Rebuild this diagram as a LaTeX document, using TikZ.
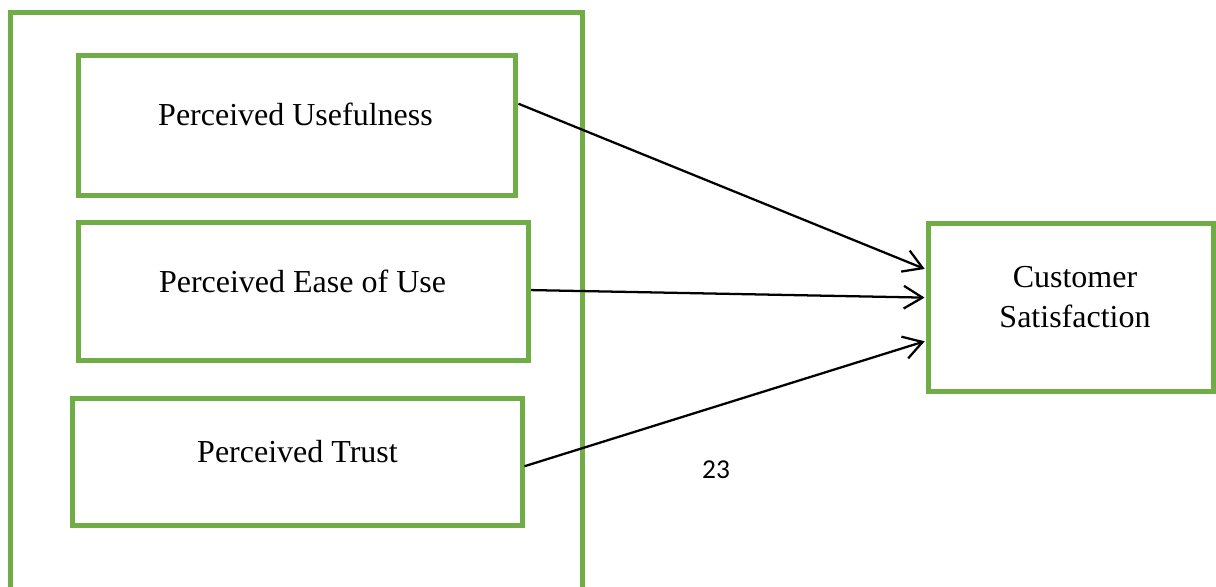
\documentclass[tikz,border=0pt]{standalone}
\usepackage{fontspec}
\setmainfont{Liberation Serif}
\newfontfamily\calib{Carlito}
\usetikzlibrary{arrows.meta,calc}
\definecolor{offgreen}{RGB}{112,173,71}
\begin{document}
\begin{tikzpicture}[x=0.75pt,y=-0.75pt,
  box/.style={draw=offgreen,line width=3.75pt,rectangle,inner sep=0pt,minimum width=#1},
  box/.default=10pt,
  lbl/.style={anchor=base,inner sep=0pt,font=\fontsize{24}{30}\selectfont},
  conn/.style={draw=black,line width=1.7pt,-{Straight Barb[length=14pt,width=17pt,line width=1.7pt]},shorten >=1pt}]
\useasboundingbox (0,0) rectangle (1216,586);
% outer frame (open at bottom)
\draw[offgreen,line width=3.75pt] (10,620) -- (10,12.5) -- (582.5,12.5) -- (582.5,620);
% boxes
\node[box=328.1pt,minimum height=105pt] (b1) at (297.25,125.5) {};
\node[box=337.5pt,minimum height=103.5pt] (b2) at (303.5,291.5) {};
\node[box=337.5pt,minimum height=95.6pt] (b3) at (297,462.25) {};
\node[box=213.4pt,minimum height=126pt] (cs) at (1070.75,307.5) {};
% labels
\node[lbl] (t1) at (295.5,125) {Perceived Usefulness};
\node[lbl] (t2) at (302.5,292) {Perceived Ease of Use};
\node[lbl] (t3) at (297.5,462) {Perceived Trust};
\node[lbl,align=center] (t4) at (1075,327) {Customer\\Satisfaction};
\node[anchor=base,inner sep=0pt,font=\calib\fontsize{20.5}{24}\selectfont] (pg) at (716,478) {23};
% connectors
\draw[conn] ($(b1.north east)!0.35!(b1.south east)$) -- ($(cs.north west)!0.28!(cs.south west)$);
\draw[conn] ($(b2.north east)!0.49!(b2.south east)$) -- ($(cs.north west)!0.443!(cs.south west)$);
\draw[conn] ($(b3.north east)!0.53!(b3.south east)$) -- ($(cs.north west)!0.693!(cs.south west)$);
\end{tikzpicture}
\end{document}
